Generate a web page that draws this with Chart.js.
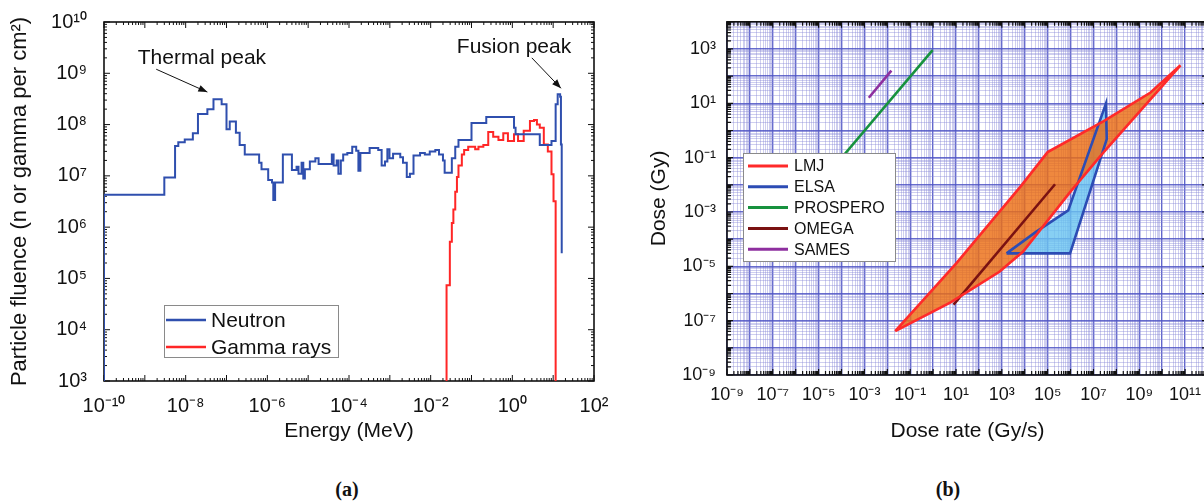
<!DOCTYPE html>
<html>
<head>
<meta charset="utf-8">
<script src="https://cdn.jsdelivr.net/npm/chart.js@4.4.1/dist/chart.umd.min.js"></script>
<style>
  html, body { margin: 0; padding: 0; background: #fff; width: 1204px; height: 502px; overflow: hidden; }
  canvas { position: absolute; top: 0; }
  #fluence { left: 0; }
  #dose { left: 620px; }
  .tag { position: absolute; top: 478px; width: 100px; text-align: center;
         font: bold 20px "Liberation Serif", "Times New Roman", serif; color: #111; }
</style>
</head>
<body>
<canvas id="fluence" width="620" height="460"></canvas>
<canvas id="dose" width="600" height="460"></canvas>
<div class="tag" style="left:297px">(a)</div>
<div class="tag" style="left:898px">(b)</div>
<script>
// ---- panel (a): particle fluence spectra (histogram bins, lower edge + value)
const neutronEnergy = [1e-10, 1e-10, 3.0e-9, 5.5e-9, 6.6e-9, 9.5e-9, 1.5e-8, 2.0e-8, 3.4e-8, 4.8e-8,
  7.6e-8, 1.0e-7, 1.2e-7, 1.7e-7, 2.1e-7, 2.8e-7, 6.3e-7, 7.2e-7, 1.05e-6, 1.3e-6,
  1.4e-6, 1.55e-6, 2.4e-6, 4.0e-6, 5.2e-6, 5.8e-6, 6.9e-6, 7.6e-6, 8.3e-6, 1.1e-5,
  1.5e-5, 1.8e-5, 3.8e-5, 4.2e-5, 5.0e-5, 5.5e-5, 6.3e-5, 7.2e-5, 9.1e-5, 1.2e-4,
  1.5e-4, 1.7e-4, 1.9e-4, 3.2e-4, 5.2e-4, 6.3e-4, 7.6e-4, 8.7e-4, 9.8e-4, 1.2e-3,
  1.8e-3, 2.1e-3, 2.6e-3, 3.1e-3, 3.8e-3, 5.5e-3, 7.2e-3, 9.5e-3, 1.3e-2, 1.6e-2,
  2.0e-2, 2.2e-2, 3.3e-2, 4.0e-2, 4.8e-2, 0.10, 0.23, 1.1, 1.2, 4.7,
  9.1, 11.5, 12.9, 14.8, 15.5, 16.2];
const neutronFluence = [1e3, 4.3e6, 9.3e6, 3.8e7, 4.5e7, 5.1e7, 6.8e7, 1.6e8, 2.0e8, 3.1e8,
  2.5e8, 8.1e7, 1.15e8, 6.9e7, 4.0e7, 2.6e7, 1.8e7, 1.35e7, 8.3e6, 7.4e6,
  3.4e6, 7.4e6, 2.6e7, 1.3e7, 1.5e7, 1.1e7, 1.8e7, 8.9e6, 1.35e7, 1.9e7,
  2.2e7, 1.7e7, 2.6e7, 1.6e7, 2.0e7, 1.1e7, 2.0e7, 2.6e7, 2.8e7, 3.7e7,
  3.1e7, 1.26e7, 2.8e7, 3.5e7, 3.2e7, 1.6e7, 1.9e7, 3.3e7, 2.2e7, 2.7e7,
  2.3e7, 1.8e7, 9.5e6, 1.1e7, 2.5e7, 2.8e7, 2.6e7, 3.0e7, 3.2e7, 2.6e7,
  2.0e7, 1.15e7, 2.2e7, 3.7e7, 5.0e7, 1.07e8, 1.4e8, 8.7e7, 6.5e7, 4.0e7,
  4.8e7, 2.5e8, 3.9e8, 3.5e8, 4.1e7, 3.1e5];
const gammaEnergy = [2.45e-2, 2.45e-2, 2.95e-2, 3.3e-2, 3.6e-2, 4.0e-2, 4.4e-2, 4.8e-2, 5.8e-2, 6.6e-2,
  8.3e-2, 0.123, 0.148, 0.195, 0.257, 0.34, 0.457, 0.60, 0.78, 1.1,
  1.38, 1.9, 2.7, 3.4, 4.0, 4.7, 5.9, 7.4, 9.1, 10.2, 11.5];
const gammaFluence = [1e3, 7.4e4, 5.2e5, 1.2e6, 2.2e6, 4.9e6, 9.5e6, 1.6e7, 2.6e7, 3.2e7,
  3.7e7, 3.3e7, 3.7e7, 4.0e7, 7.2e7, 5.8e7, 5.0e7, 6.8e7, 4.8e7, 6.5e7,
  4.8e7, 7.6e7, 1.17e8, 1.23e8, 1.0e8, 8.7e7, 4.1e7, 3.0e7, 1.07e7, 3.2e6, 1e3];
const energyTicks = [1e-10, 1e-8, 1e-6, 1e-4, 1e-2, 1e0, 1e2];
const fluenceTicks = [1e3, 1e4, 1e5, 1e6, 1e7, 1e8, 1e9, 1e10];
const peakNotes = [
  { label: 'Thermal peak', at: [2.5e-8, 2.0e9], from: [1.9e-9, 1.2e9], to: [3.4e-8, 4.3e8] },
  { label: 'Fusion peak', at: [1.1, 3.2e9], from: [3.0, 2.0e9], to: [15.5, 5.1e8] },
];

// ---- panel (b): dose vs dose rate of facilities
const lmjRate = [2.2e-2, 10, 7.2e3, 1e5, 2.8e7, 3.1e9, 6.3e10, 2.8e7, 9.5e5, 8.5e3, 7.8e2, 5.8, 2.2e-2];
const lmjDose = [4.1e-8, 1.26e-5, 9.5e-3, 0.16, 2.2, 25, 250, 0.16, 5.4e-3, 3.5e-5, 6.3e-6, 4.7e-7, 4.1e-8];
const elsaRate = [1.6e3, 3.2e4, 7.9e5, 3.5e7, 3.8e7, 9.5e5, 1.6e3];
const elsaDose = [3.0e-5, 1.9e-4, 1.15e-3, 9.8, 0.48, 3.0e-5, 3.0e-5];
const prosperoRate = [1e-6, 0.95];
const prosperoDose = [1e-3, 910];
const omegaRate = [7.8, 2.1e5];
const omegaDose = [3.9e-7, 1.05e-2];
const samesRate = [1.55e-3, 1.5e-2];
const samesDose = [16, 160];
const doseRateTicks = [1e-9, 1e-7, 1e-5, 1e-3, 1e-1, 1e1, 1e3, 1e5, 1e7, 1e9, 1e11];
const doseTicks = [1e-9, 1e-7, 1e-5, 1e-3, 1e-1, 1e1, 1e3];

Chart.defaults.font.family = '"Liberation Sans", Arial, sans-serif';
Chart.defaults.color = '#111';

const SUP = { '0': '⁰', '1': '¹', '2': '²', '3': '³', '4': '⁴', '5': '⁵', '6': '⁶', '7': '⁷', '8': '⁸', '9': '⁹', '-': '⁻' };
const pow10 = (e) => '10' + String(e).split('').map((c) => SUP[c]).join('');
const isDecade = (v) => Math.abs(Math.log10(v) - Math.round(Math.log10(v))) < 1e-6;
const pts = (xs, ys) => xs.map((x, i) => ({ x, y: ys[i] }));

function logTicks(scale) {
  const lo = Math.floor(Math.log10(scale.min) + 1e-9);
  const hi = Math.ceil(Math.log10(scale.max) - 1e-9);
  const t = [];
  for (let e = lo; e <= hi; e++) {
    for (let m = 1; m <= 9; m++) {
      const v = m * Math.pow(10, e);
      if (v >= scale.min * 0.999 && v <= scale.max * 1.001) t.push({ value: v });
    }
  }
  scale.ticks = t;
}

function labeler(list) {
  const exps = list.map((v) => Math.round(Math.log10(v)));
  return (value) => {
    if (!isDecade(value)) return '';
    const e = Math.round(Math.log10(value));
    return exps.includes(e) ? pow10(e) : '';
  };
}

// frame around the plot plus inward tick marks on all four sides
const frameTicks = {
  id: 'frameTicks',
  beforeDatasetsDraw(chart, args, o) {
    const { ctx, chartArea: a, scales: { x, y } } = chart;
    ctx.save();
    ctx.strokeStyle = '#111';
    ctx.lineWidth = o.tickWidth;
    ctx.beginPath();
    x.ticks.forEach((t) => {
      const px = x.getPixelForValue(t.value);
      const len = isDecade(t.value) ? o.major : o.minor;
      ctx.moveTo(px, a.bottom); ctx.lineTo(px, a.bottom - len);
      ctx.moveTo(px, a.top); ctx.lineTo(px, a.top + len);
    });
    y.ticks.forEach((t) => {
      const py = y.getPixelForValue(t.value);
      const len = isDecade(t.value) ? o.major : o.minor;
      ctx.moveTo(a.left, py); ctx.lineTo(a.left + len, py);
      ctx.moveTo(a.right, py); ctx.lineTo(a.right - len, py);
    });
    ctx.stroke();
    ctx.lineWidth = o.frameWidth;
    ctx.strokeRect(a.left, a.top, a.right - a.left, a.bottom - a.top);
    ctx.restore();
  },
};

// legend drawn as a boxed panel inside the plot
const boxLegend = {
  id: 'boxLegend',
  afterDatasetsDraw(chart, args, o) {
    const ctx = chart.ctx;
    ctx.save();
    ctx.fillStyle = '#fff';
    ctx.fillRect(o.left, o.top, o.width, o.height);
    ctx.strokeStyle = '#8a8a8a';
    ctx.lineWidth = 1;
    ctx.strokeRect(o.left + 0.5, o.top + 0.5, o.width, o.height);
    ctx.font = o.font;
    ctx.textBaseline = 'middle';
    chart.data.datasets.forEach((ds, i) => {
      const yy = o.top + o.firstRow + i * o.rowHeight;
      ctx.strokeStyle = ds.borderColor;
      ctx.lineWidth = o.lineWidth;
      ctx.beginPath();
      ctx.moveTo(o.left + o.sampleX, yy);
      ctx.lineTo(o.left + o.sampleX + o.sampleLen, yy);
      ctx.stroke();
      ctx.fillStyle = '#111';
      ctx.fillText(ds.label, o.left + o.textX, yy + 1);
    });
    ctx.restore();
  },
};

const notes = {
  id: 'peakNotes',
  afterDatasetsDraw(chart, args, o) {
    const { ctx, scales: { x, y } } = chart;
    ctx.save();
    ctx.font = o.font;
    ctx.fillStyle = '#111';
    ctx.strokeStyle = '#111';
    ctx.lineWidth = 1;
    ctx.textAlign = 'center';
    ctx.textBaseline = 'middle';
    o.notes.forEach((n) => {
      ctx.fillText(n.label, x.getPixelForValue(n.at[0]), y.getPixelForValue(n.at[1]));
      const x0 = x.getPixelForValue(n.from[0]), y0 = y.getPixelForValue(n.from[1]);
      const x1 = x.getPixelForValue(n.to[0]), y1 = y.getPixelForValue(n.to[1]);
      ctx.beginPath(); ctx.moveTo(x0, y0); ctx.lineTo(x1, y1); ctx.stroke();
      const ang = Math.atan2(y1 - y0, x1 - x0);
      const c = Math.cos(ang), s = Math.sin(ang);
      ctx.beginPath();
      ctx.moveTo(x1, y1);
      ctx.lineTo(x1 - 9 * c + 3.5 * s, y1 - 9 * s - 3.5 * c);
      ctx.lineTo(x1 - 9 * c - 3.5 * s, y1 - 9 * s + 3.5 * c);
      ctx.closePath();
      ctx.fill();
    });
    ctx.restore();
  },
};

new Chart(document.getElementById('fluence').getContext('2d'), {
  type: 'scatter',
  data: {
    datasets: [
      { label: 'Neutron', data: pts(neutronEnergy, neutronFluence), borderColor: '#2f4fae',
        showLine: true, stepped: 'before', borderWidth: 2, pointRadius: 0 },
      { label: 'Gamma rays', data: pts(gammaEnergy, gammaFluence), borderColor: '#ff2626',
        showLine: true, stepped: 'before', borderWidth: 2, pointRadius: 0 },
    ],
  },
  options: {
    responsive: false,
    animation: false,
    layout: { padding: { left: 0, top: 22, right: 26, bottom: 0 } },
    plugins: {
      legend: { display: false },
      tooltip: { enabled: false },
      boxLegend: { left: 164, top: 305, width: 174, height: 52, firstRow: 15, rowHeight: 27,
        sampleX: 2, sampleLen: 40, textX: 47, lineWidth: 2.5, font: '21px "Liberation Sans", Arial' },
      frameTicks: { major: 6, minor: 3, tickWidth: 1, frameWidth: 1.6 },
      peakNotes: { notes: peakNotes, font: '21px "Liberation Sans", Arial' },
    },
    scales: {
      x: {
        type: 'logarithmic', min: 1e-10, max: 1e2,
        afterBuildTicks: logTicks,
        afterFit: (s) => { s.height = 79; },
        grid: { display: false }, border: { display: false },
        ticks: { callback: labeler(energyTicks), autoSkip: false, maxRotation: 0, minRotation: 0,
          padding: 5, font: { size: 20 } },
        title: { display: true, text: 'Energy (MeV)', font: { size: 21 }, padding: { top: 0, bottom: 16 } },
      },
      y: {
        type: 'logarithmic', min: 1e3, max: 1e10,
        afterBuildTicks: logTicks,
        afterFit: (s) => { s.width = 104; },
        grid: { display: false }, border: { display: false },
        ticks: { callback: labeler(fluenceTicks), autoSkip: false, padding: 9, font: { size: 20 } },
        title: { display: true, text: 'Particle fluence (n or gamma per cm²)', font: { size: 22 },
          padding: { top: 7, bottom: 0 } },
      },
    },
  },
  plugins: [frameTicks, boxLegend, notes],
});

const majorGrid = 'rgba(78, 84, 196, 0.85)';
const minorGrid = 'rgba(135, 135, 215, 0.4)';

new Chart(document.getElementById('dose').getContext('2d'), {
  type: 'scatter',
  data: {
    datasets: [
      { label: 'LMJ', data: pts(lmjRate, lmjDose), borderColor: '#ff2a2a',
        backgroundColor: 'rgba(236, 110, 20, 0.82)', fill: 'shape' },
      { label: 'ELSA', data: pts(elsaRate, elsaDose), borderColor: '#2c4cb4',
        backgroundColor: 'rgba(105, 195, 240, 0.8)', fill: 'shape' },
      { label: 'PROSPERO', data: pts(prosperoRate, prosperoDose), borderColor: '#17923e' },
      { label: 'OMEGA', data: pts(omegaRate, omegaDose), borderColor: '#7a1212' },
      { label: 'SAMES', data: pts(samesRate, samesDose), borderColor: '#8e2f9f' },
    ],
  },
  options: {
    responsive: false,
    animation: false,
    datasets: { scatter: { showLine: true, borderWidth: 2.6, pointRadius: 0, tension: 0 } },
    layout: { padding: { left: 0, top: 19, right: 12, bottom: 0 } },
    plugins: {
      legend: { display: false },
      tooltip: { enabled: false },
      filler: { drawTime: 'beforeDatasetsDraw' },
      boxLegend: { left: 123, top: 153, width: 152, height: 108, firstRow: 13, rowHeight: 20.8,
        sampleX: 5, sampleLen: 40, textX: 51, lineWidth: 3, font: '16px "Liberation Sans", Arial' },
      frameTicks: { major: 6, minor: 4, tickWidth: 1.2, frameWidth: 1.6 },
    },
    scales: {
      x: {
        type: 'logarithmic', min: 1e-9, max: 1e12,
        afterBuildTicks: logTicks,
        afterFit: (s) => { s.height = 85; },
        border: { display: false },
        grid: { drawTicks: false,
          color: (c) => (isDecade(c.tick.value) ? majorGrid : minorGrid),
          lineWidth: (c) => (isDecade(c.tick.value) ? 1.4 : 1) },
        ticks: { callback: labeler(doseRateTicks), autoSkip: false, maxRotation: 0, minRotation: 0,
          padding: 9, font: { size: 18 } },
        title: { display: true, text: 'Dose rate (Gy/s)', font: { size: 21 }, padding: { top: 0, bottom: 16 } },
      },
      y: {
        type: 'logarithmic', min: 1e-9, max: 1e4,
        afterBuildTicks: logTicks,
        afterFit: (s) => { s.width = 107; },
        border: { display: false },
        grid: { drawTicks: false,
          color: (c) => (isDecade(c.tick.value) ? majorGrid : minorGrid),
          lineWidth: (c) => (isDecade(c.tick.value) ? 1.4 : 1) },
        ticks: { callback: labeler(doseTicks), autoSkip: false, padding: 11, font: { size: 18 } },
        title: { display: true, text: 'Dose (Gy)', font: { size: 21 }, padding: { top: 27, bottom: 0 } },
      },
    },
  },
  plugins: [frameTicks, boxLegend],
});
</script>
</body>
</html>
